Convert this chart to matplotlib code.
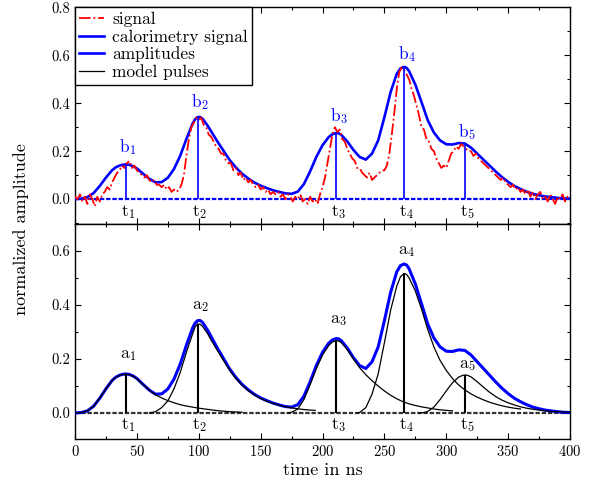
import matplotlib
matplotlib.use("Agg")
import matplotlib.pyplot as plt
from matplotlib.lines import Line2D
from matplotlib.ticker import MultipleLocator, FormatStrFormatter

plt.rcParams.update({
    "font.family": "serif",
    "font.serif": ["cmr10"],
    "mathtext.fontset": "cm",
    "axes.unicode_minus": False,
    "axes.formatter.use_mathtext": True,
})

# ---------------- data ----------------
pulse_times = [41, 99, 211, 266, 315]
b_amplitudes = [0.145, 0.343, 0.276, 0.552, 0.232]   # calorimetry signal at t_i
a_amplitudes = [0.144, 0.330, 0.268, 0.517, 0.141]   # model pulse amplitudes

calo_t = [0, 5, 10, 15, 20, 25, 30, 33, 36, 38, 41, 44, 47, 50, 55, 60, 65, 70, 75, 80, 85,
          90, 95, 97, 99, 101, 103, 107, 110, 115, 120, 125, 130, 135, 140, 145, 150, 155,
          160, 165, 170, 175, 180, 185, 190, 195, 200, 205, 208, 211, 213, 215, 220, 225,
          230, 235, 240, 245, 250, 255, 260, 263, 266, 268, 270, 275, 280, 285, 290, 295,
          300, 305, 310, 315, 320, 325, 330, 335, 340, 345, 350, 355, 360, 365, 370, 375,
          380, 385, 390, 395, 400]
calo_v = [0.0, 0.002, 0.008, 0.025, 0.055, 0.09, 0.121, 0.133, 0.14, 0.143, 0.145, 0.143,
          0.137, 0.128, 0.106, 0.085, 0.070, 0.071, 0.089, 0.126, 0.181, 0.251, 0.315, 0.333,
          0.342, 0.343, 0.336, 0.308, 0.283, 0.241, 0.202, 0.163, 0.132, 0.106, 0.086, 0.069,
          0.056, 0.046, 0.037, 0.030, 0.024, 0.022, 0.031, 0.063, 0.116, 0.176, 0.225, 0.259,
          0.271, 0.276, 0.275, 0.269, 0.241, 0.205, 0.176, 0.165, 0.190, 0.245, 0.342, 0.446,
          0.523, 0.546, 0.552, 0.548, 0.534, 0.478, 0.405, 0.330, 0.278, 0.245, 0.229, 0.228,
          0.234, 0.232, 0.215, 0.190, 0.165, 0.140, 0.115, 0.092, 0.072, 0.055, 0.042, 0.031,
          0.022, 0.016, 0.011, 0.008, 0.005, 0.003, 0.002]

signal_t = list(range(0, 401, 2))
signal_v = [0.01, 0.00, 0.02, -0.01, 0.01, -0.02, 0.02, 0.00, -0.03, 0.01,
            -0.01, 0.02, 0.03, 0.05, 0.04, 0.07, 0.09, 0.11, 0.12, 0.14,
            0.13, 0.15, 0.16, 0.13, 0.14, 0.12, 0.11, 0.10, 0.09, 0.10,
            0.08, 0.07, 0.08, 0.06, 0.06, 0.05, 0.06, 0.04, 0.05, 0.03,
            0.04, 0.03, 0.04, 0.06, 0.10, 0.18, 0.25, 0.30, 0.32, 0.34,
            0.33, 0.34, 0.31, 0.30, 0.27, 0.26, 0.24, 0.22, 0.21, 0.19,
            0.19, 0.16, 0.15, 0.15, 0.12, 0.13, 0.10, 0.11, 0.08, 0.09,
            0.07, 0.08, 0.06, 0.05, 0.06, 0.04, 0.05, 0.03, 0.04, 0.02,
            0.03, 0.02, 0.03, 0.01, 0.02, 0.00, 0.02, 0.01, -0.01, 0.01,
            0.00, 0.02, -0.01, 0.00, -0.02, 0.01, -0.01, 0.00, -0.02, 0.02,
            0.05, 0.09, 0.15, 0.21, 0.27, 0.30, 0.28, 0.29, 0.25, 0.24,
            0.21, 0.19, 0.17, 0.16, 0.13, 0.13, 0.11, 0.10, 0.09, 0.11,
            0.08, 0.09, 0.10, 0.11, 0.12, 0.12, 0.14, 0.19, 0.27, 0.36,
            0.46, 0.53, 0.55, 0.54, 0.52, 0.50, 0.46, 0.43, 0.39, 0.35,
            0.30, 0.29, 0.25, 0.24, 0.21, 0.20, 0.17, 0.15, 0.13, 0.14,
            0.13, 0.16, 0.19, 0.20, 0.22, 0.21, 0.23, 0.22, 0.21, 0.20,
            0.20, 0.18, 0.19, 0.17, 0.16, 0.15, 0.14, 0.13, 0.12, 0.11,
            0.10, 0.09, 0.08, 0.09, 0.07, 0.06, 0.05, 0.06, 0.04, 0.05,
            0.03, 0.04, 0.02, 0.04, 0.01, 0.03, 0.00, 0.02, 0.03, 0.00,
            0.01, -0.01, 0.02, 0.00, -0.02, 0.01, 0.00, 0.02, -0.01, 0.01,
            0.00]

pulse1_t = [0, 5, 10, 15, 20, 25, 30, 33, 36, 38, 41, 44, 47, 50, 55, 60, 65, 70, 75, 80,
            85, 90, 95, 100, 105, 110, 115, 120, 125, 130, 135]
pulse1_v = [0.0, 0.002, 0.008, 0.025, 0.055, 0.09, 0.121, 0.133, 0.139, 0.142, 0.144, 0.142,
            0.136, 0.127, 0.106, 0.085, 0.068, 0.056, 0.046, 0.038, 0.031, 0.026, 0.022,
            0.018, 0.015, 0.012, 0.009, 0.007, 0.005, 0.004, 0.003]
pulse2_t = [60, 65, 70, 75, 80, 85, 90, 95, 97, 99, 101, 103, 107, 110, 115, 120, 125, 130,
            135, 140, 145, 150, 155, 160, 165, 170, 175, 180, 185, 190, 194]
pulse2_v = [0.0, 0.005, 0.02, 0.045, 0.09, 0.15, 0.225, 0.293, 0.318, 0.330, 0.329, 0.321,
            0.295, 0.27, 0.232, 0.195, 0.158, 0.128, 0.103, 0.083, 0.067, 0.054, 0.044,
            0.036, 0.029, 0.023, 0.019, 0.016, 0.013, 0.011, 0.010]
pulse3_t = [172, 175, 180, 185, 190, 195, 200, 205, 208, 211, 213, 215, 220, 225, 230, 235,
            240, 245, 250, 255, 260, 265, 270, 275, 280, 285, 290, 295, 300, 305]
pulse3_v = [0.0, 0.003, 0.015, 0.05, 0.105, 0.165, 0.215, 0.250, 0.263, 0.268, 0.267, 0.262,
            0.235, 0.2, 0.168, 0.142, 0.12, 0.1, 0.082, 0.066, 0.053, 0.042, 0.034, 0.028,
            0.023, 0.019, 0.015, 0.012, 0.010, 0.008]
pulse4_t = [228, 230, 235, 240, 245, 250, 255, 260, 263, 266, 268, 270, 275, 280, 285, 290,
            295, 300, 305, 310, 315, 320, 325, 330, 335, 340, 345, 350, 355, 360]
pulse4_v = [0.0, 0.002, 0.02, 0.07, 0.145, 0.26, 0.38, 0.47, 0.505, 0.517, 0.513, 0.5,
            0.452, 0.385, 0.31, 0.245, 0.195, 0.158, 0.128, 0.104, 0.086, 0.071, 0.059,
            0.049, 0.040, 0.033, 0.027, 0.022, 0.018, 0.015]
pulse5_t = [278, 282, 285, 290, 295, 300, 305, 310, 313, 315, 317, 320, 325, 330, 335, 340,
            345, 350, 355, 360, 365, 370, 375, 380, 385, 390, 395, 400]
pulse5_v = [0.0, 0.002, 0.006, 0.022, 0.05, 0.082, 0.112, 0.133, 0.139, 0.141, 0.140, 0.134,
            0.116, 0.096, 0.077, 0.061, 0.048, 0.038, 0.030, 0.023, 0.018, 0.014, 0.011,
            0.008, 0.006, 0.005, 0.004, 0.003]

pulses = [(pulse1_t, pulse1_v), (pulse2_t, pulse2_v), (pulse3_t, pulse3_v),
          (pulse4_t, pulse4_v), (pulse5_t, pulse5_v)]

b_label_offsets = [0.072, 0.062, 0.07, 0.052, 0.05]
a_label_offsets = [0.071, 0.064, 0.076, 0.08, 0.037]

BLUE = "#0000ff"
RED = "#ff0000"

# ---------------- figure ----------------
fig = plt.figure(figsize=(5.94, 4.87), dpi=100)
ax1 = fig.add_axes([0.1263, 0.54, 0.8333, 0.4446])
ax2 = fig.add_axes([0.1263, 0.0986, 0.8333, 0.4414])

# top panel
ax1.axhline(0, color=BLUE, lw=1.6, ls=(0, (2, 0.8)), zorder=2)
ax1.plot(calo_t, calo_v, color=BLUE, lw=1.9, zorder=3, solid_joinstyle="round")
ax1.plot(signal_t, signal_v, color=RED, lw=1.3, ls="-.", zorder=4)
ax1.vlines(pulse_times, 0, b_amplitudes, color=BLUE, lw=1.2, zorder=5)
for i, (t, b) in enumerate(zip(pulse_times, b_amplitudes)):
    ax1.text(t + 2, b + b_label_offsets[i], rf"$\mathrm{{b}}_{i+1}$", color=BLUE,
             ha="center", va="center", fontsize=12.5)
    ax1.text(t + 2, -0.054, rf"$\mathrm{{t}}_{i+1}$", color="black",
             ha="center", va="center", fontsize=12.5)

# bottom panel
ax2.axhline(0, color="#333333", lw=1.6, ls=(0, (2, 0.8)), zorder=2)
ax2.plot(calo_t, calo_v, color=BLUE, lw=2.2, zorder=3, solid_joinstyle="round")
for pt, pv in pulses:
    ax2.plot(pt, pv, color="black", lw=0.9, zorder=4, solid_joinstyle="round")
ax2.vlines(pulse_times, 0, a_amplitudes, color="black", lw=1.5, zorder=5)
for i, (t, a) in enumerate(zip(pulse_times, a_amplitudes)):
    ax2.text(t + 2, a + a_label_offsets[i], rf"$\mathrm{{a}}_{i+1}$", color="black",
             ha="center", va="center", fontsize=12.5)
    ax2.text(t + 2, -0.046, rf"$\mathrm{{t}}_{i+1}$", color="black",
             ha="center", va="center", fontsize=12.5)

for ax in (ax1, ax2):
    ax.set_xlim(0, 400)
    ax.xaxis.set_major_locator(MultipleLocator(50))
    ax.xaxis.set_minor_locator(MultipleLocator(25))
    ax.yaxis.set_major_locator(MultipleLocator(0.2))
    ax.yaxis.set_minor_locator(MultipleLocator(0.1))
    ax.yaxis.set_major_formatter(FormatStrFormatter("%.1f"))
    ax.tick_params(which="both", direction="in", top=True, right=True,
                   labelsize=10.5, width=0.8)
    ax.tick_params(which="major", length=4.5)
    ax.tick_params(which="minor", length=2.5)
    for s in ax.spines.values():
        s.set_linewidth(1.0)

ax1.set_ylim(-0.104, 0.8)
ax2.set_ylim(-0.096, 0.7)
ax1.tick_params(labelbottom=False)

handles = [
    Line2D([], [], color=RED, lw=1.3, ls="-."),
    Line2D([], [], color=BLUE, lw=1.9),
    Line2D([], [], color=BLUE, lw=1.9),
    Line2D([], [], color="black", lw=0.9),
]
labels = ["signal", "calorimetry signal", "amplitudes", "model pulses"]
leg = ax1.legend(handles, labels, loc="upper left", borderaxespad=0, fancybox=False,
                 edgecolor="black", framealpha=1, fontsize=12.5, handlelength=1.4,
                 handletextpad=0.5, borderpad=0.25, labelspacing=0.12)
leg.get_frame().set_linewidth(1.0)

fig.text(0.035, 0.53, "normalized amplitude", rotation=90, ha="center", va="center",
         fontsize=13)
fig.text(0.543, 0.035, "time in ns", ha="center", va="center", fontsize=13)

fig.savefig("out.png", dpi=100)
